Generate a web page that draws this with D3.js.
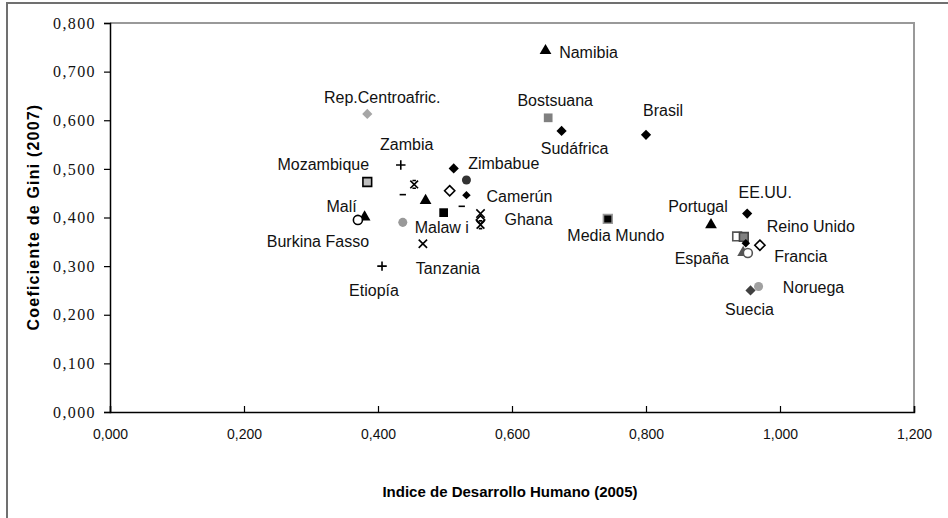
<!DOCTYPE html>
<html>
<head>
<meta charset="utf-8">
<script src="https://cdn.jsdelivr.net/npm/d3@7"></script>
<style>
  body { margin: 0; background: #fff; }
</style>
</head>
<body>
<svg id="chart" width="948" height="518"></svg>
<script>
// DATA SECTION

// one entry per point (each point is its own series in the original sheet)
let names = ['Namibia', 'Bostsuana', 'Sudáfrica', 'Brasil', 'Rep.Centroafric.', 'Zambia',
  'Mozambique', 'p8', 'p9', 'p10', 'Zimbabue', 'p12', 'p13', 'Camerún', 'p15', 'p16',
  'Ghana', 'p18', 'p19', 'Malí', 'Burkina Fasso', 'Malaw i', 'Tanzania', 'Etiopía',
  'Media Mundo', 'Portugal', 'EE.UU.', 'p28', 'Reino Unido', 'España', 'p31', 'p32',
  'Francia', 'Noruega', 'Suecia'];
let idh = [0.650, 0.654, 0.674, 0.800, 0.384, 0.434,
  0.384, 0.454, 0.437, 0.471, 0.513, 0.532, 0.507, 0.532, 0.525, 0.498,
  0.553, 0.553, 0.553, 0.380, 0.370, 0.437, 0.467, 0.406,
  0.743, 0.897, 0.951, 0.936, 0.946, 0.949, 0.970, 0.945,
  0.952, 0.968, 0.956];
let gini = [0.743, 0.605, 0.578, 0.570, 0.613, 0.508,
  0.473, 0.468, 0.447, 0.435, 0.501, 0.477, 0.455, 0.446, 0.423, 0.410,
  0.408, 0.395, 0.385, 0.401, 0.395, 0.390, 0.346, 0.300,
  0.397, 0.385, 0.408, 0.361, 0.360, 0.347, 0.343, 0.328,
  0.327, 0.258, 0.250];
let xTicks = [0, 0.2, 0.4, 0.6, 0.8, 1.0, 1.2];
let yTicks = [0, 0.1, 0.2, 0.3, 0.4, 0.5, 0.6, 0.7, 0.8];

let data = names.map((n, i) => ({name: n, idh: idh[i], gini: gini[i], i: i}));

// STYLE SECTION

// marker for each point, same order as names
let markers = [
  ['triangle', '#000', 'none'], ['square', '#808080', 'none'], ['diamond', '#000', 'none'],
  ['diamond', '#000', 'none'], ['diamond', '#a6a6a6', 'none'], ['plus', 'none', '#000'],
  ['square', '#bfbfbf', '#000'], ['star', 'none', '#000'], ['dash', 'none', '#000'],
  ['triangle', '#000', 'none'], ['diamond', '#000', 'none'], ['circle', '#333', 'none'],
  ['diamond', '#fff', '#000'], ['diamondS', '#000', 'none'], ['dash', 'none', '#000'],
  ['square', '#000', 'none'], ['times', 'none', '#000'], ['diamondS', '#fff', '#000'],
  ['star', 'none', '#000'], ['triangle', '#000', 'none'], ['circle', '#fff', '#000'],
  ['circle', '#999', 'none'], ['times', 'none', '#000'], ['plus', 'none', '#000'],
  ['square', '#000', '#999'], ['triangle', '#000', 'none'], ['diamond', '#000', 'none'],
  ['square', '#fff', '#555'], ['square', '#808080', '#444'], ['diamondS', '#000', 'none'],
  ['diamond', '#fff', '#000'], ['triangle', '#555', 'none'], ['circle', '#fff', '#555'],
  ['circle', '#a0a0a0', 'none'], ['diamond', '#404040', 'none']
];

// label centre offsets from the point (px)
let labelPos = {
  'Namibia': [43, 2], 'Bostsuana': [7, -17], 'Brasil': [17, -24], 'Sudáfrica': [13, 18],
  'Rep.Centroafric.': [15, -16], 'Zambia': [6, -20], 'Mozambique': [-44, -18],
  'Zimbabue': [50, -5], 'Camerún': [53, 1], 'Ghana': [48, 6], 'Malaw i': [39, 5],
  'Tanzania': [25, 25], 'Malí': [-23, -11], 'Burkina Fasso': [-40, 22], 'Etiopía': [-8, 24],
  'Media Mundo': [8, 17], 'Portugal': [-13, -18], 'EE.UU.': [18, -21],
  'Reino Unido': [67, -10], 'España': [-44, 15], 'Francia': [53, 4], 'Noruega': [55, 1],
  'Suecia': [-1, 19]
};

// custom symbol types
let symDiamond = {draw: function(ctx, size) {
  let s = Math.sqrt(size) / 2 * 1.414;
  ctx.moveTo(0, -s); ctx.lineTo(s, 0); ctx.lineTo(0, s); ctx.lineTo(-s, 0); ctx.closePath();
}};
let symDash = {draw: function(ctx, size) { let r = Math.sqrt(size) / 2; ctx.moveTo(-r, 0); ctx.lineTo(r, 0); }};
let symPlus = {draw: function(ctx, size) {
  let r = Math.sqrt(size) / 2;
  ctx.moveTo(-r, 0); ctx.lineTo(r, 0); ctx.moveTo(0, -r); ctx.lineTo(0, r);
}};
let symTimes = {draw: function(ctx, size) {
  let r = Math.sqrt(size) / 2;
  ctx.moveTo(-r, -r); ctx.lineTo(r, r); ctx.moveTo(-r, r); ctx.lineTo(r, -r);
}};
// excel "star": an x with short bars top and bottom
let symStar = {draw: function(ctx, size) {
  let r = Math.sqrt(size) / 2, b = r * 0.45;
  ctx.moveTo(-r, -r); ctx.lineTo(r, r); ctx.moveTo(-r, r); ctx.lineTo(r, -r);
  ctx.moveTo(-b, -r); ctx.lineTo(b, -r); ctx.moveTo(-b, r); ctx.lineTo(b, r);
}};
let symbolOf = {
  triangle: [d3.symbolTriangle, 60], square: [d3.symbolSquare, 76], diamond: [symDiamond, 52],
  diamondS: [symDiamond, 36], circle: [d3.symbolCircle, 64], plus: [symPlus, 90],
  times: [symTimes, 70], star: [symStar, 60], dash: [symDash, 40]
};

// RENDER SECTION

let svg = d3.select('#chart');

// outer chart border (clipped on right/bottom in the original)
svg.append('rect')
  .attr('x', 7)
  .attr('y', 3)
  .attr('width', 960)
  .attr('height', 540)
  .attr('fill', 'none')
  .attr('stroke', '#707070')
  .attr('stroke-width', 2);

let x = d3.scaleLinear().domain([0, 1.2]).range([110, 914]);
let y = d3.scaleLinear().domain([0, 0.8]).range([412, 23]);

let fmt = v => d3.format('.3f')(v).replace('.', ',');

// plot area frame (top + right)
svg.append('polyline')
  .attr('points', `${x(0)},${y(0.8)} ${x(1.2)},${y(0.8)} ${x(1.2)},${y(0)}`)
  .attr('fill', 'none')
  .attr('stroke', '#999')
  .attr('stroke-width', 2);

// y axis
svg.append('g')
  .attr('transform', `translate(${x(0)},0)`)
  .attr('font-family', null)
  .call(d3.axisLeft(y).tickValues(yTicks).tickSize(6).tickPadding(8).tickFormat(fmt))
  .call(g => g.select('.domain').attr('stroke', '#000').attr('stroke-width', 1.5))
  .call(g => g.selectAll('.tick line').attr('stroke', '#000').attr('stroke-width', 1.2))
  .call(g => g.selectAll('.tick text')
    .style('font-family', '"Liberation Serif", "Times New Roman", serif')
    .attr('font-size', 16)
    .attr('letter-spacing', 1.4)
    .attr('fill', '#111'));

// x axis, ticks point inward
svg.append('g')
  .attr('transform', `translate(0,${y(0)})`)
  .call(d3.axisBottom(x).tickValues(xTicks).tickSize(-6).tickPadding(17).tickFormat(fmt))
  .call(g => g.select('.domain').attr('stroke', '#000').attr('stroke-width', 1.5))
  .call(g => g.selectAll('.tick line').attr('stroke', '#000').attr('stroke-width', 1.2))
  .call(g => g.selectAll('.tick text')
    .attr('font-family', 'Liberation Sans, Arial, sans-serif')
    .attr('font-size', 14)
    .attr('fill', '#111'));

// axis titles
svg.append('text')
  .attr('x', 510)
  .attr('y', 497)
  .attr('text-anchor', 'middle')
  .attr('font-family', 'Liberation Sans, Arial, sans-serif')
  .attr('font-weight', 'bold')
  .attr('font-size', 15)
  .text('Indice de Desarrollo Humano (2005)');

svg.append('text')
  .attr('transform', 'translate(39,217) rotate(-90)')
  .attr('text-anchor', 'middle')
  .attr('font-family', 'Liberation Sans, Arial, sans-serif')
  .attr('font-weight', 'bold')
  .attr('font-size', 16)
  .attr('letter-spacing', 1.2)
  .text('Coeficiente de Gini (2007)');

// points
svg.selectAll('path.pt')
  .data(data)
  .enter().append('path')
  .attr('class', 'pt')
  .attr('transform', d => `translate(${x(d.idh)},${y(d.gini)})`)
  .attr('d', d => {
    let m = symbolOf[markers[d.i][0]];
    return d3.symbol().type(m[0]).size(m[1])();
  })
  .attr('fill', d => markers[d.i][1])
  .attr('stroke', d => markers[d.i][2])
  .attr('stroke-width', 1.6);

// country labels
svg.selectAll('text.lbl')
  .data(data.filter(d => labelPos[d.name]))
  .enter().append('text')
  .attr('class', 'lbl')
  .attr('x', d => x(d.idh) + labelPos[d.name][0])
  .attr('y', d => y(d.gini) + labelPos[d.name][1])
  .attr('text-anchor', 'middle')
  .attr('dominant-baseline', 'central')
  .attr('font-family', 'Liberation Sans, Arial, sans-serif')
  .attr('font-size', 16)
  .attr('fill', '#111')
  .text(d => d.name);
</script>
</body>
</html>
